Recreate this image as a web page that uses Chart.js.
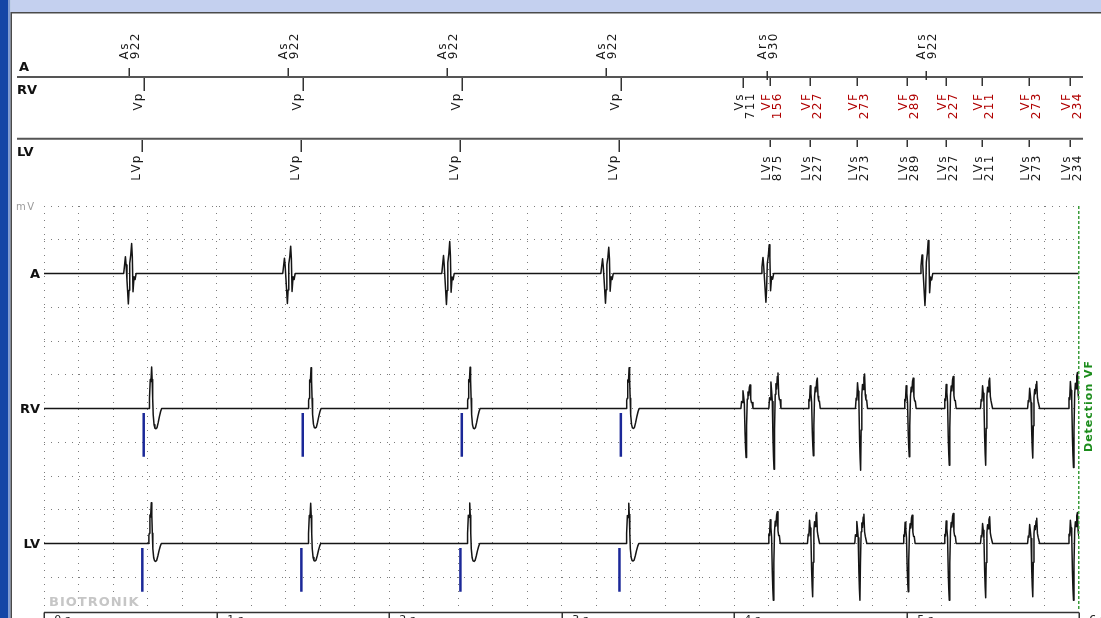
<!DOCTYPE html>
<html>
<head>
<meta charset="utf-8">
<title>IEGM</title>
<script src="https://cdn.jsdelivr.net/npm/chart.js@4.4.1/dist/chart.umd.min.js"></script>
<style>
  html, body { margin: 0; padding: 0; background: #fff; overflow: hidden; }
  canvas { display: block; }
</style>
</head>
<body>
<canvas id="egm" width="1101" height="618"></canvas>
<script>
// ---- Marker channel (times in ms from the start of the strip) ----
const aMarkerMs       = [493, 1415, 2337, 3259, 4189, 5111];
const aMarkerCode     = ['As', 'As', 'As', 'As', 'Ars', 'Ars'];
const aMarkerInterval = ['922', '922', '922', '922', '930', '922'];

const rvMarkerMs       = [578, 1500, 2422, 3344, 4055, 4211, 4438, 4711, 5000, 5227, 5438, 5711, 5945];
const rvMarkerCode     = ['Vp', 'Vp', 'Vp', 'Vp', 'Vs', 'VF', 'VF', 'VF', 'VF', 'VF', 'VF', 'VF', 'VF'];
const rvMarkerInterval = ['', '', '', '', '711', '156', '227', '273', '289', '227', '211', '273', '234'];

const lvMarkerMs       = [570, 1492, 2414, 3336, 4211, 4438, 4711, 5000, 5227, 5438, 5711, 5945];
const lvMarkerCode     = ['LVp', 'LVp', 'LVp', 'LVp', 'LVs', 'LVs', 'LVs', 'LVs', 'LVs', 'LVs', 'LVs', 'LVs'];
const lvMarkerInterval = ['', '', '', '', '875', '227', '273', '289', '227', '211', '273', '234'];

// ---- IEGM channels (amplitudes in grid units) ----
const channelNames    = ['A', 'RV', 'LV'];
const channelBaseline = [10, 6, 2];

// atrial complexes
const aEgmMs   = [493, 1415, 2337, 3259, 4189, 5111];
const aEgmUp   = [0.89, 0.81, 0.95, 0.78, 0.85, 0.98];
const aEgmDown = [0.90, 0.89, 0.92, 0.88, 0.85, 0.95];

// paced ventricular complexes (time of the main peak)
const rvPacedMs   = [624, 1548, 2470, 3392];
const rvPacedUp   = [1.23, 1.21, 1.22, 1.21];
const rvPacedDown = [0.60, 0.58, 0.60, 0.59];
const lvPacedMs   = [622, 1546, 2468, 3390];
const lvPacedUp   = [1.21, 1.19, 1.20, 1.19];
const lvPacedDown = [0.53, 0.52, 0.53, 0.52];

// fibrillation complexes (time of the deepest deflection)
const rvVfMs   = [4070, 4232, 4460, 4734, 5016, 5248, 5459, 5732, 5968];
const rvVfUp   = [0.70, 1.05, 0.90, 1.02, 0.90, 0.95, 0.90, 0.80, 1.07];
const rvVfDown = [1.45, 1.80, 1.40, 1.83, 1.43, 1.68, 1.68, 1.47, 1.75];
const lvVfMs   = [4228, 4456, 4730, 5010, 5248, 5459, 5732, 5968];
const lvVfUp   = [0.94, 0.92, 0.87, 0.84, 0.89, 0.79, 0.75, 0.92];
const lvVfDown = [1.68, 1.58, 1.68, 1.43, 1.68, 1.61, 1.58, 1.68];

// pacing pulses
const rvPaceMs = [578, 1500, 2422, 3344];
const lvPaceMs = [570, 1492, 2414, 3336];

// complex morphologies: offset (ms) and normalised deflection
const aShapeMs  = [-31, -27, -21, -17, -12, -4, 0, 4, 10, 15, 19, 23, 29, 35, 41];
const aShapeVal = [0, 0.22, 0.56, 0.28, -0.22, -1, -0.55, 0.34, 0.62, 1, 0.56, -0.6, -0.11, -0.2, 0];

const pacedShapeMs  = [-15, -14, -11, -8, -4, 0, 3, 6, 9, 14, 19, 25, 31, 38, 45, 52, 58];
const pacedShapeVal = [0, 0.2, 0.25, 0.7, 0.65, 1, 0.7, 0.25, -0.3, -0.8, -0.97, -1, -0.95, -0.7, -0.4, -0.15, 0];

const vfShapeMs  = [-30, -26, -22, -18, -14, -10, -6, -3, 0, 3, 7, 11, 15, 19, 23, 27, 31, 35, 40];
const vfShapeVal = [0, 0.3, 0.25, 0.75, 0.5, 0.2, -0.5, -0.8, -1, -0.35, 0.4, 0.7, 0.55, 0.9, 1, 0.4, 0.25, 0.25, 0];

// episode annotations and time axis
const detectionMs   = 6000;
const detectionText = 'Detection VF';
const secondTicksMs = [0, 1000, 2000, 3000, 4000, 5000, 6000];
const secondLabels  = ['0 s', '1 s', '2 s', '3 s', '4 s', '5 s', '6 s'];

const FONT = '"DejaVu Sans", Verdana, sans-serif';

function complexPoints(base, times, up, down, shapeMs, shapeVal) {
  const pts = [];
  times.forEach((t, i) => {
    shapeMs.forEach((dt, k) => {
      const v = shapeVal[k];
      pts.push({ x: t + dt, y: base + (v >= 0 ? v * up[i] : v * down[i]) });
    });
  });
  return pts;
}

function trace(base, parts) {
  const pts = [];
  parts.forEach(p => pts.push(...p));
  pts.sort((a, b) => a.x - b.x);
  return [{ x: 0, y: base }, ...pts, { x: 6100, y: base }];
}

function paceBars(base, times) {
  const pts = [];
  times.forEach(t => {
    pts.push({ x: t, y: base - 0.13 }, { x: t, y: base - 1.43 }, { x: t, y: null });
  });
  return pts;
}

const aTrace = trace(channelBaseline[0], [
  complexPoints(channelBaseline[0], aEgmMs, aEgmUp, aEgmDown, aShapeMs, aShapeVal)
]);
const rvTrace = trace(channelBaseline[1], [
  complexPoints(channelBaseline[1], rvPacedMs, rvPacedUp, rvPacedDown, pacedShapeMs, pacedShapeVal),
  complexPoints(channelBaseline[1], rvVfMs, rvVfUp, rvVfDown, vfShapeMs, vfShapeVal)
]);
const lvTrace = trace(channelBaseline[2], [
  complexPoints(channelBaseline[2], lvPacedMs, lvPacedUp, lvPacedDown, pacedShapeMs, pacedShapeVal),
  complexPoints(channelBaseline[2], lvVfMs, lvVfUp, lvVfDown, vfShapeMs, vfShapeVal)
]);

function drawSpaced(ctx, text, x, y, spacing) {
  let cx = x;
  for (const ch of text) {
    ctx.fillText(ch, cx, y);
    cx += ctx.measureText(ch).width + spacing;
  }
}

// vertical text reading bottom-to-top, one glyph per fixed cell
function drawColumn(ctx, text, cx, yAnchor, growUp, pitch) {
  ctx.save();
  ctx.translate(cx, yAnchor);
  ctx.rotate(-Math.PI / 2);
  ctx.textAlign = 'center';
  ctx.textBaseline = 'alphabetic';
  const n = text.length;
  const start = growUp ? 0 : -n * pitch;
  for (let i = 0; i < n; i++) ctx.fillText(text[i], start + (i + 0.5) * pitch, 4.2);
  ctx.restore();
}

function tick(ctx, x, y1, y2) {
  ctx.beginPath();
  ctx.moveTo(x, y1);
  ctx.lineTo(x, y2);
  ctx.stroke();
}

const stripPlugin = {
  id: 'strip',
  beforeDraw(chart) {
    const ctx = chart.ctx;
    const W = chart.width, H = chart.height;
    ctx.save();
    ctx.fillStyle = '#ffffff';
    ctx.fillRect(0, 0, W, H);
    // window frame
    ctx.fillStyle = '#1446a6';
    ctx.fillRect(0, 0, 8.5, H);
    ctx.fillStyle = '#7f9bd2';
    ctx.fillRect(8.5, 0, 2, H);
    ctx.fillStyle = '#c4d0ef';
    ctx.fillRect(11, 0, W - 11, 12);
    ctx.fillStyle = '#4a4a4a';
    ctx.fillRect(11, 12, W - 11, 1.5);
    ctx.fillRect(10.5, 12, 1.5, H - 12);
    ctx.restore();
  },
  afterDraw(chart) {
    const ctx = chart.ctx;
    const xs = chart.scales.x, ys = chart.scales.y;
    const area = chart.chartArea;
    const px = v => Math.round(xs.getPixelForValue(v)) + 0.25;
    ctx.save();

    // ---- marker channel ----
    ctx.strokeStyle = '#555555';
    ctx.lineWidth = 2;
    [77, 138.7].forEach(y => {
      ctx.beginPath(); ctx.moveTo(17, y); ctx.lineTo(1083, y); ctx.stroke();
    });

    ctx.fillStyle = '#111111';
    ctx.font = 'bold 13px ' + FONT;
    ctx.textAlign = 'left';
    ctx.textBaseline = 'alphabetic';
    ctx.fillText('A', 19, 71);
    ctx.fillText('RV', 17, 94);
    ctx.fillText('LV', 17, 156);

    ctx.strokeStyle = '#333333';
    ctx.lineWidth = 1.5;
    ctx.font = '12px ' + FONT;
    const pitch = 9;

    // atrial row
    aMarkerMs.forEach((t, i) => {
      const x = px(t);
      if (aMarkerCode[i] === 'Ars') tick(ctx, x, 71, 80); else tick(ctx, x, 68, 76);
      ctx.fillStyle = '#1a1a1a';
      drawColumn(ctx, aMarkerCode[i], x - 5.5, 60, true, pitch);
      drawColumn(ctx, aMarkerInterval[i], x + 5.5, 60, true, pitch);
    });

    // right ventricular row
    rvMarkerMs.forEach((t, i) => {
      const x = px(t);
      const code = rvMarkerCode[i];
      const len = code === 'Vp' ? 13 : (code === 'Vs' ? 10 : 8);
      tick(ctx, x, 78, 78 + len);
      ctx.fillStyle = code === 'VF' ? '#b00000' : '#1a1a1a';
      if (rvMarkerInterval[i] === '') {
        drawColumn(ctx, code, x - 6.5, 93, false, pitch);
      } else {
        drawColumn(ctx, code, x - 4, 93, false, pitch);
        drawColumn(ctx, rvMarkerInterval[i], x + 6.5, 93, false, pitch);
      }
    });

    // left ventricular row
    lvMarkerMs.forEach((t, i) => {
      const x = px(t);
      const code = lvMarkerCode[i];
      tick(ctx, x, 140, code === 'LVp' ? 152 : 147);
      ctx.fillStyle = '#1a1a1a';
      if (lvMarkerInterval[i] === '') {
        drawColumn(ctx, code, x - 6.5, 155, false, pitch);
      } else {
        drawColumn(ctx, code, x - 4, 155, false, pitch);
        drawColumn(ctx, lvMarkerInterval[i], x + 6.5, 155, false, pitch);
      }
    });

    // ---- IEGM labels ----
    ctx.fillStyle = '#9a9a9a';
    ctx.font = '10px ' + FONT;
    ctx.textAlign = 'left';
    drawSpaced(ctx, 'mV', 16, ys.getPixelForValue(12) + 3.5, 1.5);

    ctx.fillStyle = '#111111';
    ctx.font = 'bold 13px ' + FONT;
    ctx.textAlign = 'right';
    channelNames.forEach((name, i) => {
      ctx.fillText(name, 40, ys.getPixelForValue(channelBaseline[i]) + 4.5);
    });

    ctx.textAlign = 'left';
    ctx.fillStyle = '#c6c6c6';
    ctx.font = 'bold 13px ' + FONT;
    drawSpaced(ctx, 'BIOTRONIK', 49, 606, 1);

    // ---- detection marker ----
    const xd = Math.round(xs.getPixelForValue(detectionMs)) - 0.25;
    ctx.strokeStyle = '#3a9c3a';
    ctx.lineWidth = 1.5;
    ctx.setLineDash([3, 2]);
    ctx.beginPath(); ctx.moveTo(xd, area.top); ctx.lineTo(xd, area.bottom); ctx.stroke();
    ctx.setLineDash([]);
    ctx.fillStyle = '#1c8c1c';
    ctx.font = 'bold 11px ' + FONT;
    ctx.save();
    ctx.translate(xd + 9, 452);
    ctx.rotate(-Math.PI / 2);
    ctx.textAlign = 'left';
    drawSpaced(ctx, detectionText, 0, 4, 1);
    ctx.restore();

    // ---- time axis boxes ----
    ctx.strokeStyle = '#333333';
    ctx.lineWidth = 1.5;
    const yb = area.bottom + 1.5;
    ctx.beginPath();
    ctx.moveTo(xs.getPixelForValue(secondTicksMs[0]), yb);
    ctx.lineTo(xs.getPixelForValue(secondTicksMs[secondTicksMs.length - 1]), yb);
    ctx.stroke();
    ctx.fillStyle = '#222222';
    ctx.font = '11px ' + FONT;
    ctx.textBaseline = 'top';
    secondTicksMs.forEach((t, i) => {
      const x = Math.round(xs.getPixelForValue(t)) + 0.25;
      tick(ctx, x, yb, chart.height);
      ctx.fillText(secondLabels[i], x + 10, yb + 2.5);
    });

    ctx.restore();
  }
};

const gridColor = '#7c7c7c';
const traceStyle = {
  borderColor: '#151515', borderWidth: 1.5, pointRadius: 0, tension: 0,
  borderJoinStyle: 'round', fill: false
};
const paceStyle = {
  borderColor: '#1b2898', borderWidth: 2.5, pointRadius: 0, spanGaps: false, borderCapStyle: 'butt'
};

new Chart(document.getElementById('egm'), {
  type: 'line',
  data: {
    datasets: [
      Object.assign({ label: 'A', data: aTrace }, traceStyle),
      Object.assign({ label: 'RV', data: rvTrace }, traceStyle),
      Object.assign({ label: 'LV', data: lvTrace }, traceStyle),
      Object.assign({ label: 'RV pace', data: paceBars(channelBaseline[1], rvPaceMs) }, paceStyle),
      Object.assign({ label: 'LV pace', data: paceBars(channelBaseline[2], lvPaceMs) }, paceStyle)
    ]
  },
  options: {
    responsive: false,
    animation: false,
    events: [],
    layout: { padding: { left: 44, right: 22, top: 206, bottom: 7 } },
    plugins: { legend: { display: false }, tooltip: { enabled: false } },
    scales: {
      x: {
        type: 'linear', min: 0, max: 6000,
        ticks: { display: false, stepSize: 200 },
        grid: {
          color: c => (c.tick && c.tick.value >= 6000) ? 'rgba(0,0,0,0)' : gridColor,
          drawTicks: false, lineWidth: 1
        },
        border: { display: false, dash: [1, 6] }
      },
      y: {
        type: 'linear', min: 0, max: 12,
        ticks: { display: false, stepSize: 1 },
        grid: {
          color: c => (c.tick && c.tick.value <= 0) ? 'rgba(0,0,0,0)' : gridColor,
          drawTicks: false, lineWidth: 1
        },
        border: { display: false, dash: [1, 6] }
      }
    }
  },
  plugins: [stripPlugin]
});
</script>
</body>
</html>
